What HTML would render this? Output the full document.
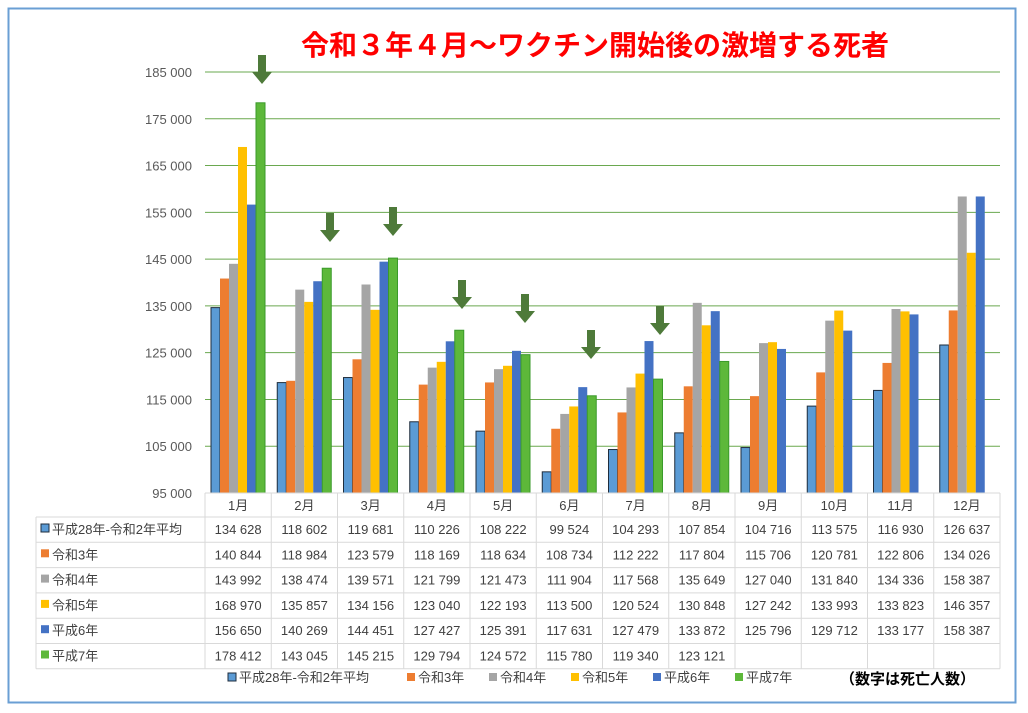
<!DOCTYPE html>
<html><head><meta charset="utf-8">
<style>
body{margin:0;background:#fff;}
svg{display:block;font-family:"Liberation Sans","Noto Sans CJK JP",sans-serif;}
</style></head><body>
<svg id="s" width="1028" height="713" xmlns="http://www.w3.org/2000/svg"></svg>
<script>
const d=[
[134628,118602,119681,110226,108222,99524,104293,107854,104716,113575,116930,126637],
[140844,118984,123579,118169,118634,108734,112222,117804,115706,120781,122806,134026],
[143992,138474,139571,121799,121473,111904,117568,135649,127040,131840,134336,158387],
[168970,135857,134156,123040,122193,113500,120524,130848,127242,133993,133823,146357],
[156650,140269,144451,127427,125391,117631,127479,133872,125796,129712,133177,158387],
[178412,143045,145215,129794,124572,115780,119340,123121,null,null,null,null]];
const names=["平成28年-令和2年平均","令和3年","令和4年","令和5年","平成6年","平成7年"];
const cols=["#5B9BD5","#ED7D31","#A5A5A5","#FFC000","#4472C4","#5DB83A"];
const strokes=["#1f2d3d","none","none","none","none","#3a9a2a"];
let h='';
h+='<rect x="8.5" y="8.5" width="1007" height="694" fill="#fff" stroke="#6a9fd4" stroke-width="2"/>';
h+='<text x="595" y="55" text-anchor="middle" font-size="28" font-weight="bold" fill="#FF0000">令和３年４月～ワクチン開始後の激増する死者</text>';
const Y=v=>493-(v-95000)*46.78/10000;
for(let i=0;i<10;i++){const v=95000+i*10000,y=Y(v);
 if(i>0)h+=`<line x1="205" x2="1000" y1="${y}" y2="${y}" stroke="#6aa84f" stroke-width="1"/>`;
 h+=`<text x="192" y="${y+5}" text-anchor="end" font-size="13" fill="#595959">${String(v).replace(/(\d+)(\d{3})$/,'$1 $2')}</text>`;}
const cw=66.25;
for(let m=0;m<12;m++){const x0=205+m*cw;
 for(let s=0;s<6;s++){const v=d[s][m];if(v==null)continue;
  const x=x0+6+s*9,y=Y(v);
  h+=`<rect x="${x}" y="${y}" width="9" height="${493-y}" fill="${cols[s]}" ${strokes[s]!='none'?`stroke="${strokes[s]}" stroke-width="1"`:''}/>`;}}
[[262,55],[330,213],[393,207],[462,280],[525,294],[591,330],[660,306]].forEach(([x,y])=>{
 h+=`<path d="M${x-4} ${y}h8v17h6l-10 12l-10 -12h6z" fill="#4E7A3A"/>`;});
const tl=36,tr=1000,rh=25.3;
h+=`<g stroke="#d9d9d9" stroke-width="1" fill="none">`;
h+=`<line x1="205" x2="${tr}" y1="493" y2="493"/>`;
for(let r=0;r<=6;r++){const y=517+r*rh;h+=`<line x1="${tl}" x2="${tr}" y1="${y}" y2="${y}"/>`;}
h+=`<line x1="${tl}" x2="${tl}" y1="517" y2="${517+6*rh}"/>`;
for(let m=0;m<=12;m++){const x=205+m*cw;h+=`<line x1="${x}" x2="${x}" y1="493" y2="${517+6*rh}"/>`;}
h+='</g>';
for(let m=0;m<12;m++)h+=`<text x="${205+m*cw+cw/2}" y="510" text-anchor="middle" font-size="13" fill="#404040">${m+1}月</text>`;
for(let s=0;s<6;s++){const y=517+s*rh+17;
 h+=`<rect x="41" y="${y-10}" width="8" height="8" fill="${cols[s]}" ${s==0?'stroke="#1f2d3d"':''}/>`;
 h+=`<text x="52" y="${y}" font-size="13" fill="#404040">${names[s]}</text>`;
 for(let m=0;m<12;m++){const v=d[s][m];if(v==null)continue;
  h+=`<text x="${205+m*cw+cw/2}" y="${y}" text-anchor="middle" font-size="13" fill="#404040">${String(v).replace(/(\d+)(\d{3})$/,'$1 $2')}</text>`;}}
const lx=[228,407,489,571,653,735];
for(let s=0;s<6;s++){h+=`<rect x="${lx[s]}" y="${673}" width="8" height="8" fill="${cols[s]}" ${s==0?'stroke="#1f2d3d"':''}/>`;
 h+=`<text x="${lx[s]+11}" y="682" font-size="13" fill="#404040">${names[s]}</text>`;}
h+='<text x="840" y="684" font-size="15" font-weight="bold" fill="#000">（数字は死亡人数）</text>';
document.getElementById('s').innerHTML=h;
</script>
</body></html>
